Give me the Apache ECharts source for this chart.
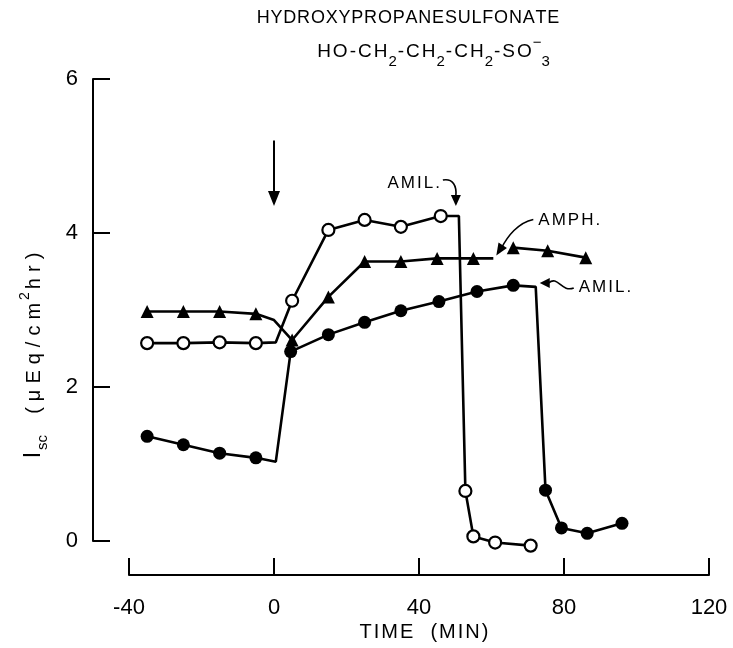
<!DOCTYPE html>
<html><head><meta charset="utf-8">
<script src="https://cdn.jsdelivr.net/npm/echarts@6/dist/echarts.min.js"></script>
<style>html,body{margin:0;padding:0;background:#fff}#c{width:733px;height:648px}</style>
</head><body><div id="c"></div>
<script>
// ---- data (time in min, Isc in µEq/cm²hr) ----
const xTicks = [-40, 0, 40, 80, 120];
const yTicks = [0, 2, 4, 6];
const triTime1 = [-35, -25, -15, -5, 0, 5, 15, 25, 35, 45, 55, 60.5];
const triIsc1 = [2.98, 2.98, 2.98, 2.95, 2.87, 2.61, 3.17, 3.63, 3.63, 3.67, 3.67, 3.67];
const triMarked1 = [1, 1, 1, 1, 0, 1, 1, 1, 1, 1, 1, 0];
const triTime2 = [66, 75.5, 86];
const triIsc2 = [3.81, 3.77, 3.68];
const openTime = [-35, -25, -15, -5, 0.5, 5, 15, 25, 35, 46, 51, 52.8, 55, 61, 70.8];
const openIsc = [2.57, 2.57, 2.58, 2.57, 2.58, 3.12, 4.04, 4.17, 4.08, 4.22, 4.22, 0.65, 0.06, -0.02, -0.06];
const openMarked = [1, 1, 1, 1, 0, 1, 1, 1, 1, 1, 0, 1, 1, 1, 1];
const filledTime = [-35, -25, -15, -5, 0.5, 4.6, 15, 25, 35, 45.5, 56, 66, 72.2, 74.9, 79.3, 86.4, 96];
const filledIsc = [1.36, 1.25, 1.14, 1.08, 1.03, 2.46, 2.68, 2.84, 2.99, 3.11, 3.24, 3.32, 3.30, 0.66, 0.17, 0.10, 0.23];
const filledMarked = [1, 1, 1, 1, 0, 1, 1, 1, 1, 1, 1, 1, 0, 1, 1, 1, 1];

const FONT = '"Liberation Sans", "DejaVu Sans", sans-serif';

function build(times, vals, marks) {
  return times.map((t, i) => {
    const item = { value: [t, vals[i]] };
    if (marks && !marks[i]) item.symbol = 'none';
    return item;
  });
}
// letter-spaced rich text: each character becomes its own token with side padding
function spaced(str, style) {
  return Array.from(str).map(c => '{' + style + '|' + c + '}').join('');
}
const lineStyle = { color: '#000', width: 2.6 };

const option = {
  animation: false,
  backgroundColor: '#fff',
  grid: { left: 129, right: 24, top: 79, bottom: 107 },
  xAxis: {
    type: 'value', min: xTicks[0], max: xTicks[xTicks.length - 1], interval: 40,
    offset: 34,
    axisLine: { onZero: false, lineStyle: { color: '#000', width: 2 } },
    axisTick: { inside: true, length: 17, lineStyle: { color: '#000', width: 2 } },
    axisLabel: { color: '#000', fontSize: 22, fontFamily: FONT, margin: 22 },
    splitLine: { show: false }
  },
  yAxis: {
    type: 'value', min: yTicks[0], max: yTicks[yTicks.length - 1], interval: 2,
    offset: 36,
    axisLine: { onZero: false, lineStyle: { color: '#000', width: 2 } },
    axisTick: { inside: true, length: 17, lineStyle: { color: '#000', width: 2 } },
    axisLabel: { color: '#000', fontSize: 22, fontFamily: FONT, margin: 15 },
    splitLine: { show: false }
  },
  series: [
    { type: 'line', data: build(filledTime, filledIsc, filledMarked), symbol: 'circle', symbolSize: 13,
      showAllSymbol: true, clip: false, lineStyle, itemStyle: { color: '#000' }, z: 3 },
    { type: 'line', data: build(triTime1, triIsc1, triMarked1), symbol: 'triangle', symbolSize: 13,
      showAllSymbol: true, clip: false, lineStyle, itemStyle: { color: '#000' }, z: 4 },
    { type: 'line', data: build(triTime2, triIsc2), symbol: 'triangle', symbolSize: 13,
      showAllSymbol: true, clip: false, lineStyle, itemStyle: { color: '#000' }, z: 4 },
    { type: 'line', data: build(openTime, openIsc, openMarked), symbol: 'circle', symbolSize: 12,
      showAllSymbol: true, clip: false, lineStyle,
      itemStyle: { color: '#fff', borderColor: '#000', borderWidth: 2.2 }, z: 5 }
  ]
};

const chart = echarts.init(document.getElementById('c'));
chart.setOption(option);

const P = (t, v) => chart.convertToPixel({ gridIndex: 0 }, [t, v]);
function head(tip, ang, len, wid) {
  const bx = tip[0] - Math.cos(ang) * len, by = tip[1] - Math.sin(ang) * len;
  const nx = -Math.sin(ang) * wid / 2, ny = Math.cos(ang) * wid / 2;
  return { type: 'polygon', shape: { points: [tip, [bx + nx, by + ny], [bx - nx, by - ny]] },
    style: { fill: '#000' }, z: 10 };
}
const lab = { l: { font: '17px ' + FONT, padding: [0, 1, 0, 1] } };
const txt = (x, y, text, align) => ({ type: 'text', x, y, z: 10,
  style: { text: spaced(text, 'l'), rich: lab, fill: '#000', align: align || 'left', verticalAlign: 'middle' } });

const g = [];
// Zero-time arrow
const z0 = P(0, 5.2), z1 = P(0, 4.35);
g.push({ type: 'line', shape: { x1: z0[0], y1: z0[1], x2: z1[0], y2: z1[1] - 12 }, style: { stroke: '#000', lineWidth: 2 }, z: 10 });
g.push(head([z1[0], z1[1]], Math.PI / 2, 15, 12));

// AMIL. (open circles)
const a1 = P(51, 4.22);
g.push(txt(a1[0] - 18, a1[1] - 33, 'AMIL.', 'right'));
g.push({ type: 'bezierCurve', shape: { x1: a1[0] - 16, y1: a1[1] - 36, cpx1: a1[0] - 6, cpy1: a1[1] - 38, cpx2: a1[0] - 2, cpy2: a1[1] - 30, x2: a1[0] - 3, y2: a1[1] - 20 },
  style: { stroke: '#000', lineWidth: 1.6, fill: null }, z: 10 });
g.push(head([a1[0] - 3, a1[1] - 10], Math.PI / 2, 11, 10));

// AMPH.
const a2 = P(60.5, 3.67);
g.push(txt(a2[0] + 44, a2[1] - 38, 'AMPH.'));
g.push({ type: 'bezierCurve', shape: { x1: a2[0] + 40, y1: a2[1] - 39, cpx1: a2[0] + 25, cpy1: a2[1] - 36, cpx2: a2[0] + 14, cpy2: a2[1] - 22, x2: a2[0] + 8, y2: a2[1] - 10 },
  style: { stroke: '#000', lineWidth: 1.6, fill: null }, z: 10 });
g.push(head([a2[0] + 3, a2[1] - 3], Math.PI * 0.68, 12, 10));

// AMIL. (filled circles)
const a3 = P(72.2, 3.30);
g.push(head([a3[0] + 4, a3[1] - 4], Math.PI, 10, 10));
g.push({ type: 'bezierCurve', shape: { x1: a3[0] + 13, y1: a3[1] - 4, cpx1: a3[0] + 22, cpy1: a3[1] - 12, cpx2: a3[0] + 26, cpy2: a3[1] + 6, x2: a3[0] + 38, y2: a3[1] + 1 },
  style: { stroke: '#000', lineWidth: 1.6, fill: null }, z: 10 });
g.push(txt(a3[0] + 42, a3[1] + 0, 'AMIL.'));

// Titles
g.push({ type: 'text', x: 408, y: 18, z: 10,
  style: { text: spaced('HYDROXYPROPANESULFONATE', 't'), fill: '#000', align: 'center', verticalAlign: 'middle',
    rich: { t: { font: '18px ' + FONT, padding: [0, 0.4, 0, 0.4] } } } });
g.push({ type: 'text', x: 433, y: 52, z: 10,
  style: { text: spaced('HO-CH', 'm') + '{s|2}' + spaced('-CH', 'm') + '{s|2}' + spaced('-CH', 'm') + '{s|2}' + spaced('-SO', 'm') + '{u|−}{s|3}',
    fill: '#000', align: 'center', verticalAlign: 'middle',
    rich: {
      m: { font: '19px ' + FONT, lineHeight: 34, verticalAlign: 'middle', padding: [0, 1, 0, 1] },
      s: { font: '15px ' + FONT, lineHeight: 34, verticalAlign: 'bottom' },
      u: { font: '15px ' + FONT, lineHeight: 34, verticalAlign: 'top' }
    } } });

// Y axis title (rotated)
g.push({ type: 'text', x: 34, y: 354, rotation: Math.PI / 2, z: 10,
  style: { text: '{b|I}{s|sc}{m|  }' + spaced('(μEq/cm', 'm') + '{u|2}' + spaced('hr)', 'm'),
    fill: '#000', align: 'center', verticalAlign: 'middle',
    rich: {
      b: { font: '23px ' + FONT, lineHeight: 32, verticalAlign: 'middle', padding: [0, 2, 0, 0] },
      m: { font: '20px ' + FONT, lineHeight: 32, verticalAlign: 'middle', padding: [0, 3, 0, 3] },
      s: { font: '15px ' + FONT, lineHeight: 32, verticalAlign: 'bottom', padding: [0, 1, 0, 0] },
      u: { font: '14px ' + FONT, lineHeight: 32, verticalAlign: 'top' }
    } } });
// X axis title
g.push({ type: 'text', x: 424, y: 632, z: 10,
  style: { text: spaced('TIME  (MIN)', 'x'), fill: '#000', align: 'center', verticalAlign: 'middle',
    rich: { x: { font: '20px ' + FONT, padding: [0, 1, 0, 1] } } } });

chart.setOption({ graphic: { elements: g } });
</script></body></html>
